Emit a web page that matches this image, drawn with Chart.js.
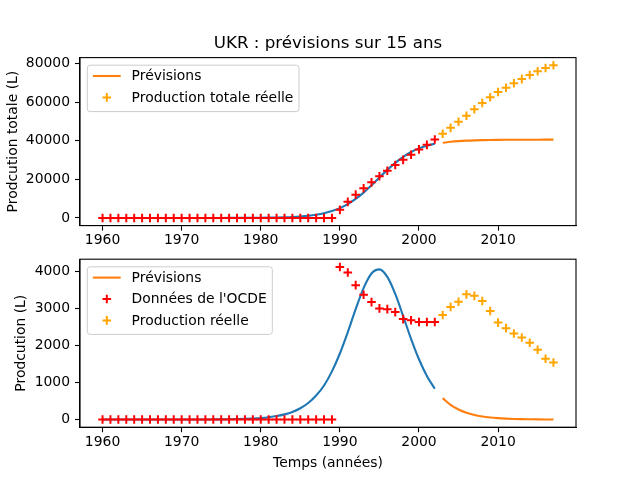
<!DOCTYPE html>
<html><head><meta charset="utf-8">
<script src="https://cdn.jsdelivr.net/npm/chart.js"></script>
<style>
html,body{margin:0;padding:0;background:#fff;}
#wrap{position:relative;width:640px;height:480px;overflow:hidden;background:#fff;}
canvas{position:absolute;left:0;top:0;}
</style></head><body>
<div id="wrap"><canvas id="c1" width="640" height="480"></canvas><canvas id="c2" width="640" height="480"></canvas></div>
<script>
// ---- data ----
const fitYears = [1960,1961,1962,1963,1964,1965,1966,1967,1968,1969,
                  1970,1971,1972,1973,1974,1975,1976,1977,1978,1979,
                  1980,1981,1982,1983,1984,1985,1986,1987,1988,1989,
                  1990,1991,1992,1993,1994,1995,1996,1997,1998,1999,
                  2000,2001,2002];
const forecastYears = [2003,2004,2005,2006,2007,2008,2009,2010,2011,2012,2013,2014,2015,2016,2017];

// top: cumulative production
const fitTotal = [0,0,0,0,0,0,0,1,1,1,
                  2,3,4,7,10,14,22,32,48,72,
                  107,159,237,352,523,776,1145,1690,2465,3570,
                  5110,7180,9850,13130,16900,20930,24920,28570,31670,34160,
                  36050,37450,38450];
const forecastTotal = [38950,39450,39800,40050,40220,40340,40420,40470,40510,40530,40545,40555,40560,40565,40570];
const oecdTotal = [0,0,0,0,0,0,0,0,0,0,
                   0,0,0,0,0,0,0,0,0,0,
                   0,0,0,0,0,0,0,0,0,0,
                   4200,8340,12070,15390,18450,21580,24450,27450,30100,32730,
                   35520,37870,40660];
const realTotal = [43600,46700,49850,52950,56350,59600,62550,65300,67450,69800,71950,74100,76000,77700,79100];

// bottom: annual production
const fitAnnual = [0,0,0,0,0,0,0,0,0,0,
                   1,1,2,2,4,6,9,13,19,29,
                   43,64,94,140,207,306,449,651,923,1305,
                   1789,2366,2989,3560,3955,4066,3862,3401,2803,2185,
                   1632,1181,834];
const forecastAnnual = [580,398,271,184,125,84,56,38,26,17,11,8,5,3,2];
const oecdAnnual = [0,0,0,0,0,0,0,0,0,0,
                    0,0,0,0,0,0,0,0,0,0,
                    0,0,0,0,0,0,0,0,0,0,
                    4130,3980,3640,3380,3180,3010,2990,2910,2720,2690,
                    2640,2640,2640];
const realAnnual = [2830,3050,3190,3390,3350,3210,2940,2625,2475,2330,2220,2080,1890,1645,1545];

const xTicks = [1960,1970,1980,1990,2000,2010];
const yTicksTop = [0,20000,40000,60000,80000];
const yTicksBottom = [0,1000,2000,3000,4000];

const titleText = "UKR : prévisions sur 15 ans";
const yTitleTop = "Prodcution totale (L)";
const yTitleBottom = "Prodcution (L)";
const xTitleBottom = "Temps (années)";
const labelForecast = "Prévisions";
const labelRealTotal = "Production totale réelle";
const labelOecd = "Données de l'OCDE";
const labelReal = "Production réelle";

// ---- styles ----
const BLUE = '#1f77b4', ORANGE_LINE = '#ff7f0e', RED = '#ff0000', ORANGE = '#ffa500';
const FONT = "'DejaVu Sans', sans-serif";
Chart.defaults.font.family = FONT;
Chart.defaults.font.size = 13.9;
Chart.defaults.color = '#000';

const pts = (xs, ys) => xs.map((x, i) => ({x: x, y: ys[i]}));

const framePlugin = {
  id: 'frame',
  afterDraw(chart, args, opts) {
    const ctx = chart.ctx, a = chart.chartArea;
    ctx.save();
    ctx.strokeStyle = '#000'; ctx.lineWidth = 1.1;
    ctx.strokeRect(a.left, a.top, a.right - a.left, a.bottom - a.top);
    if (opts.title) {
      ctx.font = "16.7px " + FONT; ctx.fillStyle = '#000';
      ctx.textAlign = 'center'; ctx.textBaseline = 'middle';
      ctx.fillText(opts.title, (a.left + a.right) / 2, 44);
    }
    const items = opts.items || [];
    if (items.length) {
      ctx.font = "13.9px " + FONT;
      let maxW = 0;
      items.forEach(it => { maxW = Math.max(maxW, ctx.measureText(it.label).width); });
      const L = a.left + 7.3, T = a.top + 7.6;
      const textX = L + 44.3;
      const W = textX - L + maxW + 5.6, H = 21.2 * items.length + 4;
      const r = 2.8;
      ctx.beginPath();
      ctx.moveTo(L + r, T); ctx.lineTo(L + W - r, T); ctx.arcTo(L + W, T, L + W, T + r, r);
      ctx.lineTo(L + W, T + H - r); ctx.arcTo(L + W, T + H, L + W - r, T + H, r);
      ctx.lineTo(L + r, T + H); ctx.arcTo(L, T + H, L, T + H - r, r);
      ctx.lineTo(L, T + r); ctx.arcTo(L, T, L + r, T, r); ctx.closePath();
      ctx.fillStyle = 'rgba(255,255,255,0.8)'; ctx.fill();
      ctx.strokeStyle = '#cccccc'; ctx.lineWidth = 1; ctx.stroke();
      items.forEach((it, i) => {
        const cy = T + 10.8 + i * 21.4;
        if (it.type === 'line') {
          ctx.strokeStyle = it.color; ctx.lineWidth = 2.1;
          ctx.beginPath(); ctx.moveTo(L + 5.6, cy); ctx.lineTo(L + 33.4, cy); ctx.stroke();
        } else {
          const cx = L + 19.5, rr = 4.3;
          ctx.strokeStyle = it.color; ctx.lineWidth = 2;
          ctx.beginPath(); ctx.moveTo(cx - rr, cy); ctx.lineTo(cx + rr, cy);
          ctx.moveTo(cx, cy - rr); ctx.lineTo(cx, cy + rr); ctx.stroke();
        }
        ctx.fillStyle = '#000'; ctx.textAlign = 'left'; ctx.textBaseline = 'middle';
        ctx.fillText(it.label, textX, cy + 0.5);
      });
    }
    ctx.restore();
  }
};

function lineDs(data, color, order) {
  return {data: data, borderColor: color, backgroundColor: color, borderWidth: 2.1,
          pointRadius: 0, cubicInterpolationMode: 'monotone', fill: false, order: order};
}
function crossDs(data, color, order) {
  return {data: data, showLine: false, borderColor: color, backgroundColor: color,
          pointStyle: 'cross', pointRadius: 4.3, pointBorderWidth: 2, pointHoverRadius: 4.3, order: order};
}

function makeChart(id, o) {
  return new Chart(document.getElementById(id), {
    type: 'line',
    data: {datasets: o.datasets},
    options: {
      responsive: false, animation: false, devicePixelRatio: 1,
      layout: {padding: {left: 0, right: 64, top: o.padTop, bottom: o.padBottom}},
      plugins: {legend: {display: false}, tooltip: {enabled: false},
                frame: {items: o.legend, title: o.title}},
      events: [],
      scales: {
        x: {
          type: 'linear', min: 1957.15, max: 2019.85,
          afterBuildTicks: s => { s.ticks = xTicks.map(v => ({value: v})); },
          afterFit: s => { s.height = o.xHeight; },
          ticks: {autoSkip: false, maxRotation: 0, minRotation: 0, padding: 1.5, color: '#000',
                  callback: v => String(v)},
          grid: {drawOnChartArea: false, drawTicks: true, tickLength: 5, tickColor: '#000', tickWidth: 1.1},
          border: {display: true, color: '#000', width: 1.1},
          title: o.xTitle ? {display: true, text: o.xTitle, color: '#000', padding: {top: 0, bottom: 8.7}}
                          : {display: false}
        },
        y: {
          type: 'linear', min: o.yMin, max: o.yMax,
          afterBuildTicks: s => { s.ticks = o.yTicks.map(v => ({value: v})); },
          afterFit: s => { s.width = 80; },
          ticks: {padding: 5, color: '#000', callback: v => String(v)},
          grid: {drawOnChartArea: false, drawTicks: true, tickLength: 5, tickColor: '#000', tickWidth: 1.1},
          border: {display: true, color: '#000', width: 1.1},
          title: {display: true, text: o.yTitle, color: '#000', padding: {top: o.yTitlePad, bottom: 0}}
        }
      }
    },
    plugins: [framePlugin]
  });
}

makeChart('c1', {
  padTop: 57.6, padBottom: 234.4, xHeight: 20,
  yMin: -3957, yMax: 83087, yTicks: yTicksTop,
  yTitle: yTitleTop, yTitlePad: 4.6, title: titleText,
  datasets: [
    lineDs(pts(fitYears, fitTotal), BLUE, 4),
    crossDs(pts(fitYears, oecdTotal), RED, 3),
    lineDs(pts(forecastYears, forecastTotal), ORANGE_LINE, 2),
    crossDs(pts(forecastYears, realTotal), ORANGE, 1)
  ],
  legend: [
    {label: labelForecast, type: 'line', color: ORANGE_LINE},
    {label: labelRealTotal, type: 'cross', color: ORANGE}
  ]
});

makeChart('c2', {
  padTop: 259.2, padBottom: 0, xHeight: 52.8,
  yMin: -207, yMax: 4342, yTicks: yTicksBottom,
  yTitle: yTitleBottom, yTitlePad: 13.4, xTitle: xTitleBottom,
  datasets: [
    lineDs(pts(fitYears, fitAnnual), BLUE, 4),
    lineDs(pts(forecastYears, forecastAnnual), ORANGE_LINE, 3),
    crossDs(pts(fitYears, oecdAnnual), RED, 2),
    crossDs(pts(forecastYears, realAnnual), ORANGE, 1)
  ],
  legend: [
    {label: labelForecast, type: 'line', color: ORANGE_LINE},
    {label: labelOecd, type: 'cross', color: RED},
    {label: labelReal, type: 'cross', color: ORANGE}
  ]
});
</script>
</body></html>
